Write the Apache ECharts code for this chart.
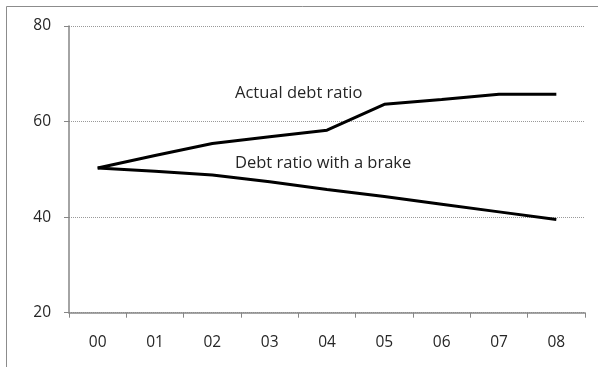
<!DOCTYPE html>
<html><head><meta charset="utf-8">
<script src="https://cdn.jsdelivr.net/npm/echarts@6/dist/echarts.min.js"></script>
<style>html,body{margin:0;padding:0;background:#fff}#c{width:598px;height:367px}</style>
</head><body><div id="c"></div>
<script>
const categories = ['00','01','02','03','04','05','06','07','08'];
const actualDebt = [50.3, 52.9, 55.4, 56.8, 58.2, 63.6, 64.6, 65.7, 65.7];
const debtWithBrake = [50.3, 49.6, 48.8, 47.4, 45.8, 44.3, 42.7, 41.1, 39.5];
const yTicks = [20, 40, 60, 80];
const seriesNames = ['Actual debt ratio', 'Debt ratio with a brake'];

const FONT = '"Open Sans", sans-serif';
const chart = echarts.init(document.getElementById('c'), null, {renderer: 'canvas'});
chart.setOption({
  animation: false,
  backgroundColor: '#fff',
  grid: {left: 69, top: 26, right: 13, bottom: 54.3, containLabel: false},
  xAxis: {
    type: 'category', data: categories, boundaryGap: true,
    axisLine: {lineStyle: {color: '#868686', width: 1.5}},
    axisTick: {show: true, length: 5, lineStyle: {color: '#868686', width: 1}},
    axisLabel: {color: '#262626', fontFamily: FONT, fontSize: 15.5, margin: 22}
  },
  yAxis: {
    type: 'value', min: yTicks[0], max: yTicks[yTicks.length-1], interval: 20,
    axisLine: {show: true, lineStyle: {color: '#868686', width: 1.5}},
    axisTick: {show: true, length: 5, lineStyle: {color: '#868686', width: 1}},
    axisLabel: {color: '#262626', fontFamily: FONT, fontSize: 15.5, margin: 18},
    splitLine: {show: true, lineStyle: {color: '#999', type: [1, 1], width: 1}}
  },
  series: [
    {name: seriesNames[0], type: 'line', data: actualDebt, showSymbol: false, symbol: 'none',
     lineStyle: {color: '#000', width: 3}, z: 3},
    {name: seriesNames[1], type: 'line', data: debtWithBrake, showSymbol: false, symbol: 'none',
     lineStyle: {color: '#000', width: 3}, z: 3}
  ],
  graphic: [
    {type: 'rect', shape: {x: 6.5, y: 6.5, width: 800, height: 600}, style: {fill: 'none', stroke: '#8c8c8c', lineWidth: 1}, silent: true},
    {type: 'text', left: 235, top: 85, style: {text: seriesNames[0], fill: '#262626', font: '16.5px ' + FONT}},
    {type: 'text', left: 235, top: 155, style: {text: seriesNames[1], fill: '#262626', font: '16.5px ' + FONT}}
  ]
});
</script></body></html>
